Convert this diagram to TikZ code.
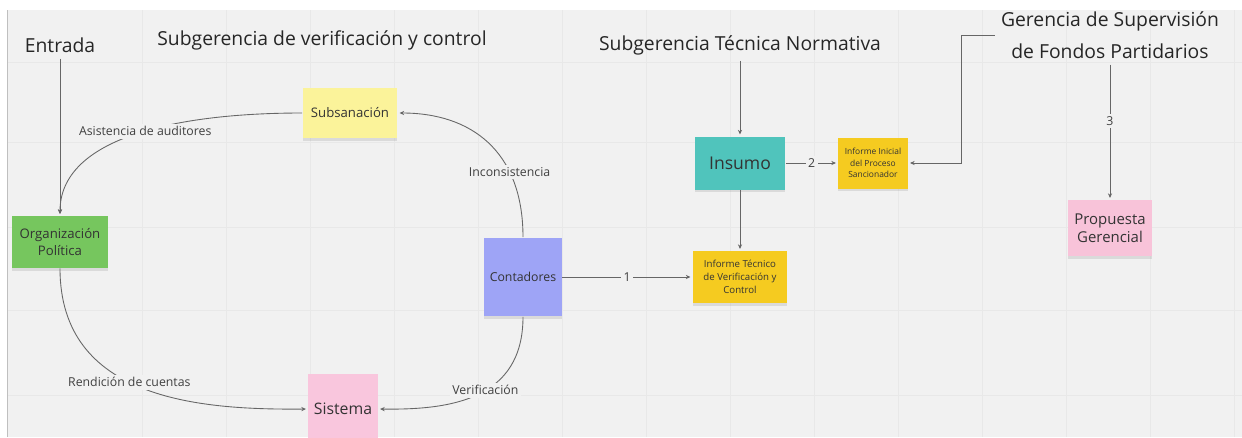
\documentclass[tikz,border=0pt]{standalone}
\usepackage{fontspec}
\setmainfont{Open Sans}
\usetikzlibrary{arrows.meta,shadows}

\definecolor{boardgray}{HTML}{F1F1F1}
\definecolor{gridgray}{HTML}{E8E8E8}
\definecolor{subsyellow}{HTML}{FBF39A}
\definecolor{orggreen}{HTML}{76C65E}
\definecolor{contblue}{HTML}{9EA4F6}
\definecolor{sispink}{HTML}{F9C6DD}
\definecolor{insteal}{HTML}{50C4BC}
\definecolor{infgold}{HTML}{F5CB20}
\definecolor{proppink}{HTML}{F8C3D9}

\begin{document}
\begin{tikzpicture}[x=0.02cm, y=-0.02cm,
    note/.style={rectangle, align=center, inner sep=1pt, text=black!80,
      drop shadow={shadow xshift=0pt, shadow yshift=-1.5pt, opacity=0.2}},
    flow/.style={draw=black!60, line width=0.5pt, shorten >=1pt,
      -{Stealth[length=2.6pt, width=2.4pt]}},
    lbl/.style={fill=boardgray, inner sep=1.5pt, text=black!75,
      font=\fontsize{7}{8}\selectfont},
    head/.style={text=black!85, font=\fontsize{11}{18}\selectfont}]

  % board
  \useasboundingbox (0,0) rectangle (1242,437);
  \fill[white] (0,0) rectangle (1242,437);
  \fill[boardgray] (7,10) rectangle (1242,437);
  \foreach \gx in {142,226,...,1234}
    \draw[gridgray, line width=0.4pt] (\gx,10) -- (\gx,437);
  \foreach \gy in {62,142,227,310,395}
    \draw[gridgray, line width=0.4pt] (7,\gy) -- (1242,\gy);
  \draw[black!25] (7,10) -- (7,437);

  % column titles
  \node[head] (entrada) at (60,45) {Entrada};
  \node[head] (subvc) at (322,40) {Subgerencia de verificación y control};
  \node[head] (subtn) at (740,45) {Subgerencia Técnica Normativa};
  \node[head, align=center] (gsfp) at (1110,35) {Gerencia de Supervisión\\de Fondos Partidarios};

  % sticky notes
  \node[note, fill=subsyellow, minimum width=1.9cm, minimum height=1cm,
    font=\fontsize{7.5}{9}\selectfont] (subsanacion) at (350,113) {Subsanación};
  \node[note, fill=orggreen, minimum width=1.92cm, minimum height=1.04cm,
    font=\fontsize{7.5}{9.5}\selectfont] (organizacion) at (60,242) {Organización\\Política};
  \node[note, fill=contblue, minimum width=1.56cm, minimum height=1.58cm,
    font=\fontsize{7}{9}\selectfont] (contadores) at (523,277) {Contadores};
  \node[note, fill=sispink, minimum width=1.4cm, minimum height=1.4cm,
    font=\fontsize{9}{11}\selectfont] (sistema) at (343,409) {Sistema};
  \node[note, fill=insteal, minimum width=1.82cm, minimum height=1.06cm,
    font=\fontsize{10}{12}\selectfont] (insumo) at (740,163) {Insumo};
  \node[note, fill=infgold, minimum width=1.4cm, minimum height=1.02cm,
    font=\fontsize{4.8}{6.5}\selectfont] (inicial) at (873,163) {Informe Inicial\\del Proceso\\Sancionador};
  \node[note, fill=infgold, minimum width=1.9cm, minimum height=1.04cm,
    font=\fontsize{5.5}{7.5}\selectfont] (tecnico) at (740,277) {Informe Técnico\\de Verificación y\\Control};
  \node[note, fill=proppink, minimum width=1.7cm, minimum height=1.12cm,
    font=\fontsize{8.5}{10.5}\selectfont] (propuesta) at (1110,228) {Propuesta\\Gerencial};

  % connectors
  \draw[flow] (entrada) -- (organizacion);
  \draw[flow] (subsanacion.west) .. controls (170,113) and (60,140) ..
    node[lbl, pos=0.45] {Asistencia de auditores} (organizacion.north);
  \draw[flow] (contadores.north) .. controls (523,150) and (470,113) ..
    node[lbl, pos=0.3] {Inconsistencia} (subsanacion.east);
  \draw[flow] (contadores.south) .. controls (523,400) and (450,410) ..
    node[lbl, pos=0.45] {Verificación} (sistema.east);
  \draw[flow] (organizacion.south) .. controls (60,400) and (200,410) ..
    node[lbl, pos=0.45] {Rendición de cuentas} (sistema.west);
  \draw[flow] (contadores) -- node[lbl] {1} (tecnico);
  \draw[flow] (subtn) -- (insumo);
  \draw[flow] (insumo) -- node[lbl] {2} (inicial);
  \draw[flow] (insumo) -- (tecnico);
  \draw[flow] (gsfp.west) -- ++(-33,0) |- (inicial.east);
  \draw[flow] (gsfp) -- node[lbl, pos=0.42] {3} (propuesta);
\end{tikzpicture}
\end{document}
